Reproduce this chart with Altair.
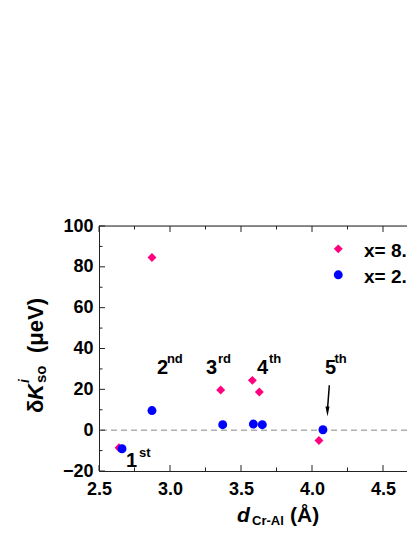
import altair as alt
import pandas as pd

# ---- data ----
series = ["x= 8.", "x= 2."]
colors = ["#FF0080", "#0000FF"]
shapes = ["diamond", "circle"]

x_pink = [2.641, 2.873, 3.357, 3.580, 3.629, 4.049]
y_pink = [-8.6, 84.6, 19.7, 24.4, 18.7, -5.1]
x_blue = [2.662, 2.873, 3.371, 3.587, 3.650, 4.077]
y_blue = [-9.1, 9.6, 2.7, 3.0, 2.7, 0.2]

x_major = [2.5, 3.0, 3.5, 4.0, 4.5]
x_minor = [2.75, 3.25, 3.75, 4.25]
y_major = [-20, 0, 20, 40, 60, 80, 100]
y_minor = [-10, 10, 30, 50, 70, 90]

shell_num = ["1", "2", "3", "4", "5"]
shell_sup = ["st", "nd", "rd", "th", "th"]
shell_x = [2.690, 2.908, 3.254, 3.613, 4.092]
shell_y = [-18.2, 27.3, 27.3, 27.3, 27.3]
sup_x = [2.782, 2.978, 3.338, 3.697, 4.158]
sup_y = [-13.3, 33.0, 33.0, 33.0, 33.0]

legend_sym_x = [4.185, 4.185]
legend_sym_y = [88.8, 76.1]
legend_txt_x = [4.366, 4.366]
legend_txt_y = [84.7, 72.0]

arrow_x = [4.122, 4.109]
arrow_y = [22.0, 10.0]
arrow_head = [4.109, 9.2]

W, H = 308, 245
X_DOMAIN = [2.5, 2.5 + W / 142.0]
Y_DOMAIN = [-20, 100]
FONT = "Liberation Sans"

pts = pd.DataFrame({
    "d": x_pink + x_blue,
    "k": y_pink + y_blue,
    "s": [series[0]] * len(x_pink) + [series[1]] * len(x_blue),
})

xs = alt.Scale(domain=X_DOMAIN, nice=False, zero=False)
ys = alt.Scale(domain=Y_DOMAIN, nice=False, zero=False)
cs = alt.Scale(domain=series, range=colors)
ss = alt.Scale(domain=series, range=shapes)

base_axis = dict(domain=True, domainColor="#222", domainWidth=1, ticks=False, tickSize=0,
                 grid=False, labelFont=FONT, labelFontWeight="bold", labelFontSize=18,
                 labelColor="black", title=None, labelFlush=False, labelOverlap=False)

# invisible layer that carries the axes
axes_layer = alt.Chart(pts).mark_point(opacity=0).encode(
    x=alt.X("d:Q", scale=xs, axis=alt.Axis(values=x_major, format=".1f", labelPadding=9,
                                           orient="bottom", **base_axis)),
    y=alt.Y("k:Q", scale=ys, axis=alt.Axis(values=y_major, labelPadding=6, orient="left",
                                           **base_axis)),
)

# zero line
zero = alt.Chart(pd.DataFrame({"z": [0]})).mark_rule(
    color="#888", strokeDash=[6, 4], strokeWidth=1).encode(
    y=alt.Y("z:Q", scale=ys, axis=None))

# top frame line
top = alt.Chart(pd.DataFrame({"t": [Y_DOMAIN[1]]})).mark_rule(
    color="#222", strokeWidth=1).encode(
    y=alt.Y("t:Q", scale=ys, axis=None))

points = alt.Chart(pts).mark_point(filled=True, size=80, opacity=1).encode(
    x=alt.X("d:Q", scale=xs, axis=None),
    y=alt.Y("k:Q", scale=ys, axis=None),
    color=alt.Color("s:N", scale=cs, legend=None),
    shape=alt.Shape("s:N", scale=ss, legend=None),
)

def xticks(vals, length):
    df = pd.DataFrame({"v": vals})
    bot = alt.Chart(df).mark_rule(color="#222", strokeWidth=1).encode(
        x=alt.X("v:Q", scale=xs, axis=None), y=alt.value(H), y2=alt.value(H - length))
    tp = alt.Chart(df).mark_rule(color="#222", strokeWidth=1).encode(
        x=alt.X("v:Q", scale=xs, axis=None), y=alt.value(0), y2=alt.value(length))
    return [bot, tp]

def yticks(vals, length):
    df = pd.DataFrame({"v": vals})
    return [alt.Chart(df).mark_rule(color="#222", strokeWidth=1).encode(
        y=alt.Y("v:Q", scale=ys, axis=None), x=alt.value(0), x2=alt.value(length))]

ticks = xticks(x_major, 6) + xticks(x_minor, 3.5) + yticks(y_major, 6) + yticks(y_minor, 3.5)

# shell annotations
ann = pd.DataFrame({"n": shell_num, "x": shell_x, "y": shell_y})
sup = pd.DataFrame({"n": shell_sup, "x": sup_x, "y": sup_y})
ann_txt = alt.Chart(ann).mark_text(font=FONT, fontWeight="bold", fontSize=20, align="left",
                                   baseline="alphabetic", color="black").encode(
    x=alt.X("x:Q", scale=xs, axis=None), y=alt.Y("y:Q", scale=ys, axis=None), text="n:N")
sup_txt = alt.Chart(sup).mark_text(font=FONT, fontWeight="bold", fontSize=13, align="left",
                                   baseline="alphabetic", color="black").encode(
    x=alt.X("x:Q", scale=xs, axis=None), y=alt.Y("y:Q", scale=ys, axis=None), text="n:N")

# arrow to 5th
arr = alt.Chart(pd.DataFrame({"x": [arrow_x[0]], "x2": [arrow_x[1]],
                              "y": [arrow_y[0]], "y2": [arrow_y[1]]})).mark_rule(
    color="black", strokeWidth=1.5).encode(
    x=alt.X("x:Q", scale=xs, axis=None), x2="x2:Q",
    y=alt.Y("y:Q", scale=ys, axis=None), y2="y2:Q")
head = alt.Chart(pd.DataFrame({"x": [arrow_head[0]], "y": [arrow_head[1]]})).mark_point(
    shape="M-0.4,-1L0.4,-1L0,1Z", filled=True, color="black", size=100, opacity=1).encode(
    x=alt.X("x:Q", scale=xs, axis=None), y=alt.Y("y:Q", scale=ys, axis=None))

# legend
leg = pd.DataFrame({"s": series, "x": legend_sym_x, "y": legend_sym_y,
                    "tx": legend_txt_x, "ty": legend_txt_y})
leg_sym = alt.Chart(leg).mark_point(filled=True, size=80, opacity=1).encode(
    x=alt.X("x:Q", scale=xs, axis=None), y=alt.Y("y:Q", scale=ys, axis=None),
    color=alt.Color("s:N", scale=cs, legend=None),
    shape=alt.Shape("s:N", scale=ss, legend=None))
leg_txt = alt.Chart(leg).mark_text(font=FONT, fontWeight="bold", fontSize=19, align="left",
                                   baseline="alphabetic", color="black").encode(
    x=alt.X("tx:Q", scale=xs, axis=None), y=alt.Y("ty:Q", scale=ys, axis=None), text="s:N")

# axis titles built from pieces (super/subscripts)
one = pd.DataFrame({"a": [0]})

def piece(text, x, y, size, style="normal", angle=0):
    return alt.Chart(one).mark_text(text=text, font=FONT, fontWeight="bold", fontStyle=style,
                                    fontSize=size, align="left", baseline="alphabetic",
                                    angle=angle, color="black").encode(
        x=alt.value(x), y=alt.value(y))

titles = [
    piece("δ", -56, 187, 22, angle=270),
    piece("K", -56, 174, 22, style="italic", angle=270),
    piece("i", -70, 157, 14, style="italic", angle=270),
    piece("so", -53, 157, 15, angle=270),
    piece("(μeV)", -56, 127, 22, angle=270),
    piece("d", 138, 296, 21, style="italic"),
    piece("Cr-Al", 153, 299, 13),
    piece("(Å)", 191, 296, 21),
]

chart = alt.layer(axes_layer, zero, top, *ticks, points, ann_txt, sup_txt, arr, head,
                  leg_sym, leg_txt, *titles).resolve_axis(
    x="independent", y="independent").properties(
    width=W, height=H,
    autosize=alt.AutoSizeParams(type="none"),
    padding={"left": 91, "top": 218, "right": 0, "bottom": 57},
).configure_view(stroke=None).configure(background="white")

chart.save("out.html", embed_options={"renderer": "svg", "actions": False})
